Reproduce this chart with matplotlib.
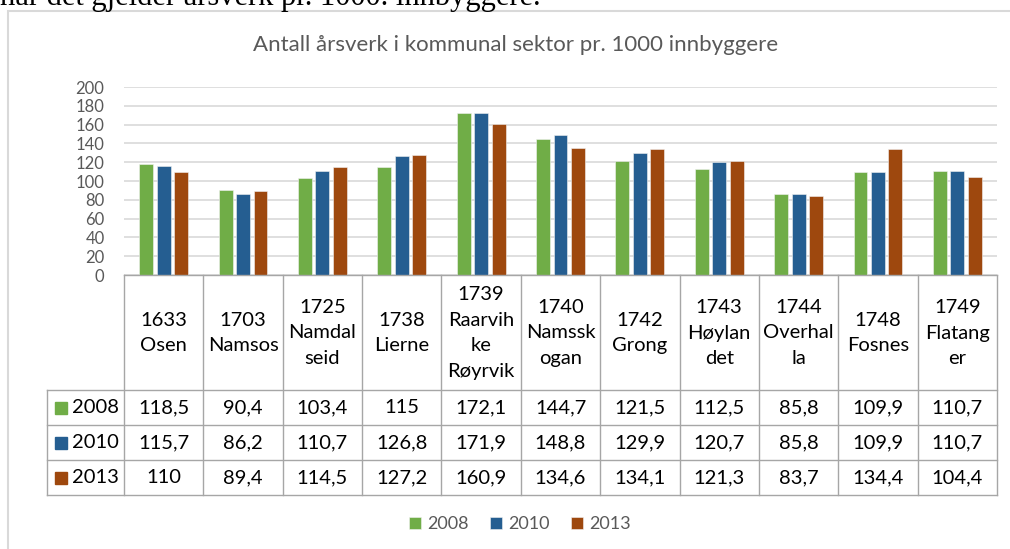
import matplotlib.pyplot as plt
import numpy as np
from matplotlib.patches import Rectangle

# data
kommuner = ['1633\nOsen', '1703\nNamsos', '1725\nNamdal\nseid', '1738\nLierne',
            '1739\nRaarvih\nke\nRøyrvik', '1740\nNamssk\nogan', '1742\nGrong',
            '1743\nHøylan\ndet', '1744\nOverhal\nla', '1748\nFosnes', '1749\nFlatang\ner']
years = ['2008', '2010', '2013']
v2008 = [118.5, 90.4, 103.4, 115, 172.1, 144.7, 121.5, 112.5, 85.8, 109.9, 110.7]
v2010 = [115.7, 86.2, 110.7, 126.8, 171.9, 148.8, 129.9, 120.7, 85.8, 109.9, 110.7]
v2013 = [110, 89.4, 114.5, 127.2, 160.9, 134.6, 134.1, 121.3, 83.7, 134.4, 104.4]
colors = ['#70AD47', '#255E91', '#9E480E']

W, H = 1010, 549
FONT = 'Lato'
GRAY = '#595959'


def fmt(v):
    s = ('%g' % v)
    return s.replace('.', ',')


def main():
    fig = plt.figure(figsize=(W / 100, H / 100), dpi=100)

    # chart frame (cut off at right and bottom)
    fig.patches.append(Rectangle((8 / W, -0.05), 1.1, 1 - 11 / H + 0.05, transform=fig.transFigure,
                                 fill=False, edgecolor='#D9D9D9', lw=1.5))
    # text from document above the chart, cut by the screenshot
    fig.text(0, 1 - 5 / H, 'når det gjelder årsverk pr. 1000. innbyggere.', va='baseline',
             family='Liberation Serif', fontsize=22, color='black')

    ax = fig.add_axes([124 / W, 1 - 275 / H, 873 / W, 188 / H])
    x = np.arange(len(kommuner))
    pitch, bw = 0.22, 0.176
    series = [v2008, v2010, v2013]
    bars = []
    for k, vals in enumerate(series):
        b = ax.bar(x + (k - 1) * pitch, vals, bw, color=colors[k], edgecolor='#F2F2F2',
                   lw=0.4, label=years[k], zorder=3)
        bars.append(b)
    ax.set_xlim(-0.5, 10.5)
    ax.set_ylim(0, 200)
    ax.set_yticks(np.arange(0, 201, 20))
    ax.set_xticks([])
    ax.grid(axis='y', color='#D9D9D9', lw=1.2, zorder=0)
    for s in ax.spines.values():
        s.set_visible(False)
    ax.tick_params(axis='y', length=0, pad=14, labelsize=12, labelcolor=GRAY)
    for t in ax.get_yticklabels():
        t.set_family(FONT)

    # data table
    tab = fig.add_axes([47 / W, 1 - 495 / H, 950 / W, 220 / H])
    x0 = -0.5 - 77 / 79.36
    tab.set_xlim(x0, 10.5)
    tab.set_ylim(220, 0)
    tab.axis('off')
    lc, lw = '#A6A6A6', 1.0
    tab.plot([-0.5, 10.5], [0, 0], color=lc, lw=lw, clip_on=False)
    for yy in [115, 150, 185, 220]:
        tab.plot([x0, 10.5], [yy, yy], color=lc, lw=lw, clip_on=False)
    for i in range(len(kommuner) + 1):
        tab.plot([i - 0.5, i - 0.5], [0, 220], color=lc, lw=lw, clip_on=False)
    tab.plot([x0, x0], [115, 220], color=lc, lw=lw, clip_on=False)

    for i, name in enumerate(kommuner):
        tab.text(i, 58, name, ha='center', va='center', family=FONT, fontsize=14.5,
                 linespacing=1.6, color='black')
    for r, vals in enumerate(series):
        yc = 132.5 + 35 * r
        for i, v in enumerate(vals):
            tab.text(i, yc, fmt(v), ha='center', va='center', family=FONT, fontsize=14.5,
                     color='black')
        tab.add_patch(Rectangle((x0 + 8 / 79.36, yc - 6), 12 / 79.36, 12, color=colors[r]))
        tab.text(x0 + 25 / 79.36, yc, years[r], ha='left', va='center', family=FONT,
                 fontsize=14.5, color='black')

    fig.text(516 / W, 1 - 45 / H, 'Antall årsverk i kommunal sektor pr. 1000 innbyggere',
             ha='center', va='center', family=FONT, fontsize=16, color=GRAY)

    fig.legend(handles=bars, labels=years, loc='center', bbox_to_anchor=(520 / W, 1 - 524 / H),
               ncol=3, frameon=False, handlelength=0.65, handleheight=0.65, handletextpad=0.35,
               columnspacing=1.2, prop={'family': FONT, 'size': 13}, labelcolor=GRAY)

    fig.savefig('out.png', dpi=100)


if __name__ == '__main__':
    main()
